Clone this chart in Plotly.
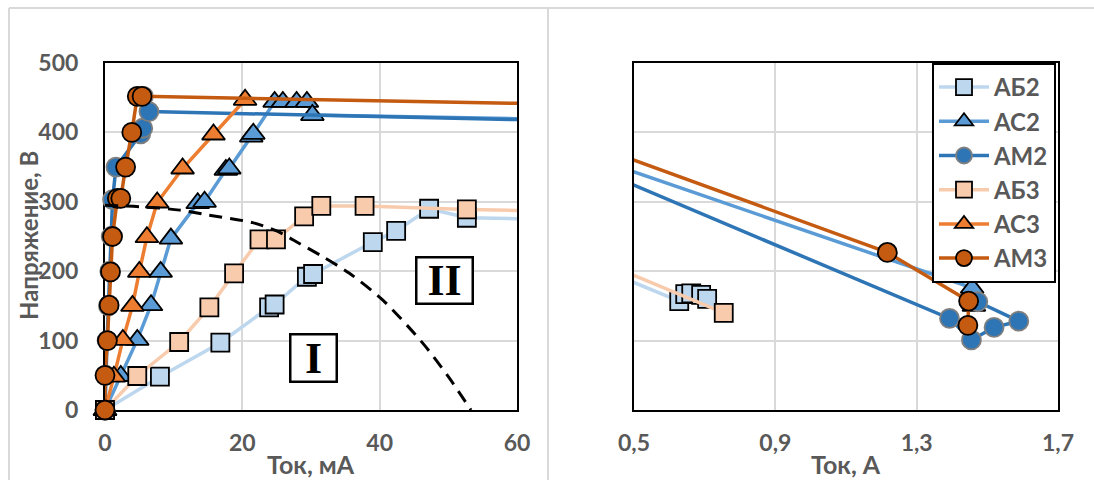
import plotly.graph_objects as go

# ---------------- data (current in mA, voltage in V) ----------------
series_names = ["АБ2", "АС2", "АМ2", "АБ3", "АС3", "АМ3"]

AB2_I = [0, 8.0, 16.8, 23.9, 24.7, 29.4, 30.3, 39.0, 42.4, 47.2, 52.7, 628, 645, 662, 690, 707]
AB2_U = [0, 48, 97, 148, 152, 192, 196, 242, 258, 290, 277, 157, 167, 168, 166, 160]

AC2_I = [0, 2.3, 4.7, 6.7, 8.1, 9.6, 13.5, 14.5, 17.6, 18.1, 21.3, 21.6, 24.7, 25.9, 27.9, 29.4, 30.2, 1457, 1462]
AC2_U = [0, 49, 101, 151, 199, 247, 298, 300, 346, 348, 394, 398, 444, 444, 444, 444, 425, 176, 150]

AM2_I = [0, 0.1, 0.3, 0.5, 0.7, 0.9, 1.1, 1.6, 5.2, 5.5, 5.6, 6.4, 1393, 1455, 1519, 1589, 1473]
AM2_U = [0, 50, 100, 150, 200, 250, 303, 350, 398, 406, 452, 430, 132, 101, 119, 128, 156]

AB3_I = [0, 4.7, 10.8, 15.2, 18.8, 22.5, 24.9, 29.0, 31.5, 37.8, 52.7, 754]
AB3_U = [0, 49, 98, 148, 197, 246, 246, 279, 294, 294, 289, 140]

AC3_I = [0, 1.3, 2.6, 4.0, 5.0, 6.1, 7.6, 11.3, 15.8, 20.4]
AC3_U = [0, 48, 101, 150, 199, 249, 299, 348, 397, 447]

AM3_I = [0, 0.0, 0.35, 0.6, 0.8, 1.1, 1.8, 2.3, 3.0, 3.9, 4.7, 5.4, 1217, 1447, 1445]
AM3_U = [0, 50, 100, 151, 199, 250, 305, 305, 350, 400, 452, 452, 227, 157, 122]

# boundary between regions I and II (dashed curve)
BOUND_I = [0, 5, 10.9, 15, 21.5, 25, 28.3, 31.7, 35.6, 40.5, 46.3, 50, 53.3]
BOUND_U = [295, 293, 288, 281, 270, 258, 240, 221, 197, 158, 96, 48, 0]

left_xticks = [0, 20, 40, 60]
right_xticks = [0.5, 0.9, 1.3, 1.7]
yticks = [0, 100, 200, 300, 400, 500]

# ---------------- styles ----------------
styles = {
    "АБ2": dict(color="#BDD7EE", symbol="square", size=18, edge="#000000"),
    "АС2": dict(color="#5B9BD5", symbol="triangle-up", size=20, edge="#000000"),
    "АМ2": dict(color="#2E75B6", symbol="circle", size=19, edge="#7F7F7F"),
    "АБ3": dict(color="#F8CBAD", symbol="square", size=18, edge="#000000"),
    "АС3": dict(color="#ED7D31", symbol="triangle-up", size=20, edge="#000000"),
    "АМ3": dict(color="#C55A11", symbol="circle", size=19, edge="#000000"),
}
data = {
    "АБ2": (AB2_I, AB2_U),
    "АС2": (AC2_I, AC2_U),
    "АМ2": (AM2_I, AM2_U),
    "АБ3": (AB3_I, AB3_U),
    "АС3": (AC3_I, AC3_U),
    "АМ3": (AM3_I, AM3_U),
}

FONT = "Lato"
GRAY = "#595959"

fig = go.Figure()

# left panel (mA)
for name in series_names:
    xs, ys = data[name]
    st = styles[name]
    fig.add_trace(go.Scatter(
        x=xs, y=ys, mode="lines+markers", name=name, showlegend=False,
        xaxis="x", yaxis="y", cliponaxis=False,
        line=dict(color=st["color"], width=3.5),
        marker=dict(symbol=st["symbol"], size=st["size"], color=st["color"],
                    line=dict(color=st["edge"], width=1.8)),
    ))

fig.add_trace(go.Scatter(
    x=BOUND_I, y=BOUND_U, mode="lines", showlegend=False, xaxis="x", yaxis="y",
    line=dict(color="black", width=3, dash="13px,8px", shape="spline", smoothing=0.8),
    hoverinfo="skip",
))

# right panel (A)
for name in series_names:
    xs, ys = data[name]
    st = styles[name]
    fig.add_trace(go.Scatter(
        x=[v / 1000 for v in xs], y=ys, mode="lines+markers", name=name, showlegend=True,
        xaxis="x2", yaxis="y2", cliponaxis=True,
        line=dict(color=st["color"], width=3.5),
        marker=dict(symbol=st["symbol"], size=st["size"], color=st["color"],
                    line=dict(color=st["edge"], width=1.8)),
    ))

W, H = 1094, 480
def px_x(p):
    return p / W
def px_y(p):
    return 1 - p / H

axis_common = dict(
    showgrid=True, gridcolor="#D9D9D9", gridwidth=2,
    showline=True, linecolor="black", linewidth=2, mirror=True,
    zeroline=False, ticks="", layer="below traces", automargin=False,
    tickfont=dict(family=FONT, size=23, color=GRAY, weight="bold"),
)

fig.update_layout(
    width=W, height=H,
    autosize=False,
    margin=dict(l=0, r=0, t=0, b=0, pad=0, autoexpand=False),
    paper_bgcolor="white", plot_bgcolor="white",
    separators=", ",
    font=dict(family=FONT, color=GRAY),
    xaxis=dict(domain=[px_x(105), px_x(517)], range=[0, 60], tickvals=left_xticks,
               anchor="y", ticklabelstandoff=11, **axis_common),
    yaxis=dict(domain=[px_y(410), px_y(63)], range=[0, 500], tickvals=yticks,
               anchor="x", ticklabelstandoff=20, **axis_common),
    xaxis2=dict(domain=[px_x(634), px_x(1058)], range=[0.5, 1.7], tickvals=right_xticks,
                tickformat=".1f", anchor="y2", ticklabelstandoff=11, **axis_common),
    yaxis2=dict(domain=[px_y(410), px_y(63)], range=[0, 500], tickvals=yticks,
                anchor="x2", showticklabels=False, **axis_common),
    legend=dict(x=px_x(932), y=px_y(63), xanchor="left", yanchor="top",
                bgcolor="white", bordercolor="black", borderwidth=2,
                font=dict(family=FONT, size=24, color=GRAY, weight="bold"),
                itemwidth=50, tracegroupgap=0, entrywidth=55),
    showlegend=True,
)

title_font = dict(family=FONT, size=25, color=GRAY, weight="bold")
# axis titles
fig.add_annotation(text="Напряжение, В", textangle=-90, xref="paper", yref="paper",
                   x=px_x(28), y=px_y(236), xanchor="center", yanchor="middle",
                   showarrow=False, font=dict(family=FONT, size=24, color=GRAY, weight="bold"))
fig.add_annotation(text="Ток, мА", xref="paper", yref="paper",
                   x=px_x(311), y=px_y(464), xanchor="center", yanchor="middle",
                   showarrow=False, font=title_font)
fig.add_annotation(text="Ток, А", xref="paper", yref="paper",
                   x=px_x(846), y=px_y(464), xanchor="center", yanchor="middle",
                   showarrow=False, font=title_font)

# region labels
fig.add_annotation(text="I", xref="x", yref="y", x=30.4, y=75, showarrow=False,
                   xanchor="center", yanchor="middle",
                   font=dict(family="Liberation Serif", size=44, color="black", weight="bold"),
                   bgcolor="white", bordercolor="black", borderwidth=2.5, borderpad=0,
                   width=44, height=45)
fig.add_annotation(text="II", xref="x", yref="y", x=49.5, y=186, showarrow=False,
                   xanchor="center", yanchor="middle",
                   font=dict(family="Liberation Serif", size=44, color="black", weight="bold"),
                   bgcolor="white", bordercolor="black", borderwidth=2.5, borderpad=0,
                   width=54, height=44)

# light frame lines of the two chart areas
frame = dict(color="#D9D9D9", width=2)
fig.add_shape(type="line", xref="paper", yref="paper", x0=px_x(9), x1=1, y0=px_y(8), y1=px_y(8), line=frame)
fig.add_shape(type="line", xref="paper", yref="paper", x0=px_x(9), x1=px_x(9), y0=0, y1=px_y(8), line=frame)
fig.add_shape(type="line", xref="paper", yref="paper", x0=px_x(548), x1=px_x(548), y0=0, y1=px_y(8), line=frame)

fig.write_html("out.html", config={"displayModeBar": False},
               post_script="document.body.style.margin='0';document.body.style.overflow='hidden';")
